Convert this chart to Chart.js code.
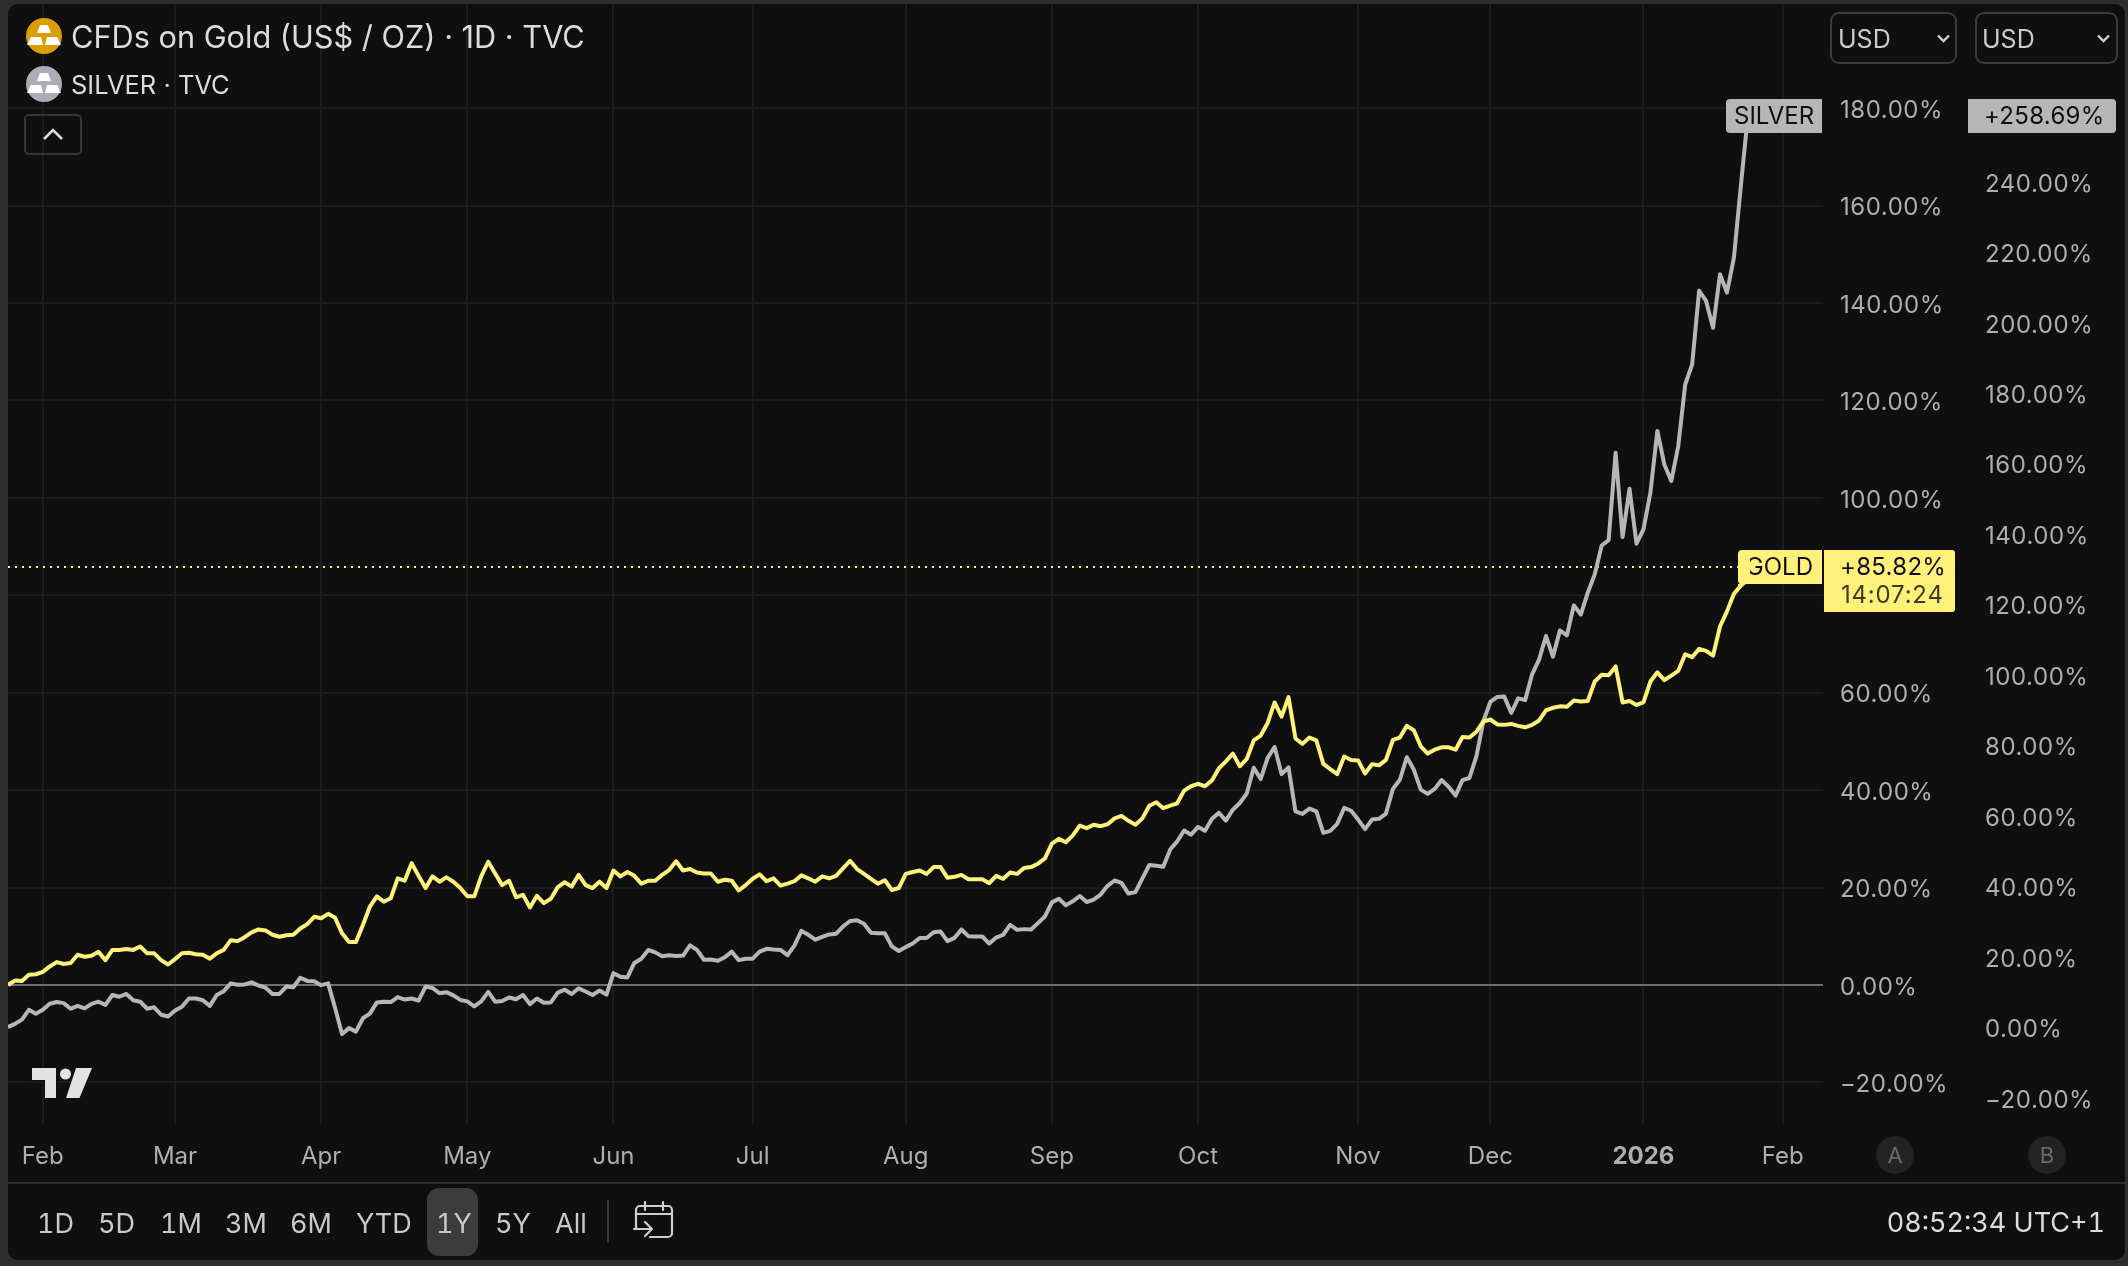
<!DOCTYPE html>
<html><head><meta charset="utf-8">
<script src="https://cdn.jsdelivr.net/npm/chart.js@4/dist/chart.umd.min.js"></script>
<style>
html,body{margin:0;padding:0;background:#2e2e2e;width:2128px;height:1266px;overflow:hidden;font-family:Inter,sans-serif}
#panel{position:absolute;left:8px;top:4px;width:2117px;height:1256px;background:#0f0f0f;border-radius:10px}
#c{position:absolute;left:0;top:0;width:2128px;height:1266px}
.t{position:absolute;line-height:1;transform:translateY(-50%);white-space:nowrap}
.box{position:absolute;box-sizing:border-box}
svg{position:absolute;overflow:visible}
.r{font-size:27px;color:#c9c9c9;font-feature-settings:'tnum'}
</style></head><body>
<div id="panel"></div>
<canvas id="c" width="2128" height="1266"></canvas>

<svg style="left:0;top:0" width="2128" height="1266">
 <g><ellipse cx="44" cy="36" rx="18" ry="18" fill="#db9d00"/>
  <path d="M40 25h8l3 8H37zM31 37h10l2 8H27l4-8zM47 37h10l4 8H45z" fill="#fff"/></g>
 <g><ellipse cx="44" cy="84" rx="18" ry="18" fill="#aeacba"/>
  <path d="M40 73h8l3 8H37zM31 85h10l2 8H27l4-8zM47 85h10l4 8H45z" fill="#fff"/></g>
 <path d="M44 139l9-9 9 9" fill="none" stroke="#dcdcdc" stroke-width="2.6"/>
 <path d="M32 1068h24v30H45v-18H32z M76 1068h16l-12.500 30H66z" fill="#e2e2e2" stroke="#0f0f0f" stroke-width="3" paint-order="stroke"/>
 <circle cx="65.500" cy="1074" r="5.500" fill="#e2e2e2"/>
 <path d="M1938 35.500l5.500 5.500 5.500-5.500" fill="none" stroke="#d0d0d0" stroke-width="2.400"/>
 <path d="M2098 35.500l5.500 5.500 5.500-5.500" fill="none" stroke="#d0d0d0" stroke-width="2.400"/>
 <g fill="none" stroke="#cfcfcf" stroke-width="2.200" stroke-linecap="round" stroke-linejoin="round">
  <path d="M636 1228v-18a4 4 0 0 1 4-4h28a4 4 0 0 1 4 4v23a4 4 0 0 1-4 4h-18M636 1214h36M645 1202v8M663 1202v8M634 1229h18M645 1222l7 7-7 7"/>
 </g>
</svg>

<div class="t" style="left:71px;top:37px;font-size:30.700px;color:#dcdcdc">CFDs on Gold (US$ / OZ) · 1D · TVC</div>
<div class="t" style="left:71px;top:85px;font-size:25.500px;color:#dcdcdc">SILVER · TVC</div>
<div class="box" style="left:24px;top:114px;width:58px;height:41px;border:2px solid #353535;border-radius:5px"></div>

<div class="box" style="left:1830px;top:12px;width:127px;height:52px;border:2px solid #3b3b3b;border-radius:9px"></div>
<div class="box" style="left:1975px;top:12px;width:143px;height:52px;border:2px solid #3b3b3b;border-radius:9px"></div>
<div class="t" style="left:1838px;top:39px;font-size:25px;color:#cbcbcb">USD</div>
<div class="t" style="left:1982px;top:39px;font-size:25px;color:#cbcbcb">USD</div>

<div class="box" style="left:1876px;top:1136px;width:38px;height:38px;border-radius:50%;background:#232323"></div>
<div class="box" style="left:2028px;top:1136px;width:38px;height:38px;border-radius:50%;background:#232323"></div>
<div class="t" style="left:1895px;top:1155px;font-size:22px;color:#6b6b6b;transform:translate(-50%,-50%)">A</div>
<div class="t" style="left:2047px;top:1155px;font-size:22px;color:#6b6b6b;transform:translate(-50%,-50%)">B</div>

<div class="box" style="left:8px;top:1182px;width:2117px;height:2px;background:#2e2e2e"></div>
<div class="box" style="left:427px;top:1188px;width:51px;height:68px;border-radius:12px;background:#3c3c3c"></div>
<div class="box" style="left:607px;top:1200px;width:2px;height:43px;background:#3a3a3a"></div>
<div class="t r" style="left:37px;top:1223px">1D</div>
<div class="t r" style="left:98px;top:1223px">5D</div>
<div class="t r" style="left:160px;top:1223px">1M</div>
<div class="t r" style="left:225px;top:1223px">3M</div>
<div class="t r" style="left:290px;top:1223px">6M</div>
<div class="t r" style="left:356px;top:1223px">YTD</div>
<div class="t r" style="left:436px;top:1223px">1Y</div>
<div class="t r" style="left:495px;top:1223px">5Y</div>
<div class="t r" style="left:555px;top:1223px">All</div>
<div class="t r" style="right:23px;top:1222px;color:#dcdcdc">08:52:34 UTC+1</div>

<script>
const monthNames = ["","Feb","Mar","Apr","May","Jun","Jul","Aug","Sep","Oct","Nov","Dec","2026","Feb"];
const monthBars  = [5,19,21,21,21,20,22,21,21,23,19,22,20,6];
const axisATicksShownUpTo = 180;
const axisBTicksShownUpTo = 240;

const goldValues = [
0.0,0.9,0.8,2.1,2.2,2.7,3.8,4.7,4.3,4.5,6.2,5.8,6.0,6.8,5.1,7.2,7.2,7.4,7.2,7.9,
6.5,6.5,5.1,4.2,5.3,6.5,6.6,6.3,6.2,5.4,6.5,7.2,9.2,9.0,9.8,10.8,11.4,11.2,10.3,9.9,
10.2,10.3,11.6,12.5,14.0,13.7,14.6,13.8,10.6,8.8,8.8,12.3,16.1,18.2,17.1,17.8,21.9,21.4,25.0,22.4,
19.9,22.3,21.2,22.1,21.2,19.9,18.2,18.2,22.3,25.3,22.9,20.5,21.4,18.0,18.5,15.9,18.3,16.8,17.7,20.1,
21.1,20.2,22.6,20.5,19.9,21.2,19.9,23.5,22.3,23.2,22.4,20.8,21.4,21.4,22.6,23.6,25.4,23.5,23.8,23.1,
22.9,22.9,21.2,21.6,21.4,19.4,20.5,21.8,22.7,21.3,21.9,20.4,20.8,21.3,22.5,21.9,21.2,22.3,21.9,22.4,
24.0,25.5,23.8,22.8,21.8,20.8,21.5,19.5,19.9,22.8,23.2,23.5,22.8,24.2,24.2,22.0,22.2,22.6,21.7,21.7,
21.7,20.9,22.4,21.8,23.1,22.8,24.0,24.2,24.9,26.0,29.0,30.0,29.3,30.7,32.7,32.2,32.9,32.6,33.0,34.2,
34.7,33.7,32.9,34.2,36.8,37.5,36.3,36.8,37.3,39.9,40.8,41.3,40.8,42.0,44.5,45.9,47.5,44.9,46.4,50.2,
51.2,53.8,58.0,55.1,59.1,50.6,49.5,50.8,50.2,45.4,44.3,43.3,46.9,46.2,46.1,43.4,45.3,45.1,46.2,50.3,
50.8,53.2,52.3,49.0,47.5,48.3,48.8,48.8,48.3,50.9,50.8,52.0,54.1,54.5,53.5,53.4,53.6,53.2,52.9,53.4,
54.3,56.4,56.9,57.2,57.1,58.4,58.2,58.3,62.3,63.7,63.6,65.4,58.0,58.3,57.5,58.0,62.3,64.2,62.6,63.5,
64.5,67.9,67.3,69.0,68.6,67.6,73.6,76.7,80.3,82.0,85.82];

const silverValues = [
0.1,1.0,2.2,5.0,3.9,5.0,6.7,7.2,6.9,5.3,6.1,5.4,6.7,7.3,6.4,9.2,8.7,9.5,7.7,7.3,
5.3,5.7,3.6,3.1,4.8,5.9,8.2,8.2,7.7,6.1,9.2,10.3,12.5,12.1,12.2,12.8,11.9,11.3,9.5,9.5,
11.6,11.4,14.1,13.2,13.1,12.0,12.5,5.5,-1.9,-0.2,-1.2,2.6,3.9,7.1,7.3,7.2,8.6,7.9,8.2,7.6,
11.6,11.2,9.7,10.0,9.1,7.8,7.4,6.0,7.4,10.1,7.3,7.5,8.5,8.0,9.2,6.6,8.2,7.0,7.1,9.9,
10.7,9.5,11.1,10.2,9.2,10.5,9.3,15.4,14.4,14.2,18.3,19.5,22.0,21.3,20.2,20.5,20.3,20.4,23.3,22.0,
19.2,19.3,18.9,19.9,21.5,19.1,19.5,19.5,21.5,22.3,22.1,22.0,20.5,23.2,27.4,26.3,24.9,25.7,26.4,26.6,
28.7,30.2,30.4,29.4,26.9,26.7,26.7,23.0,21.7,22.8,23.8,25.4,25.4,27.0,27.2,24.5,25.4,27.8,25.9,25.8,
25.8,23.8,25.5,26.3,29.1,27.7,27.9,27.8,29.6,31.5,35.5,36.5,34.7,35.8,37.3,35.6,36.3,37.7,40.2,41.7,
41.0,38.0,38.4,42.3,46.1,45.9,45.6,50.5,52.8,55.9,54.7,56.9,55.8,59.2,60.9,58.7,61.8,63.7,66.4,73.7,
70.5,76.5,79.6,71.9,73.8,61.3,60.6,62.1,61.3,55.2,55.8,57.8,62.3,61.5,59.0,56.3,59.0,59.2,60.7,67.7,
70.3,76.7,73.2,67.5,66.3,67.7,70.2,68.3,65.8,70.2,70.8,77.0,86.9,92.4,93.8,93.9,89.3,93.4,92.9,100.2,
104.4,111.1,105.2,112.7,111.3,119.8,117.2,123.4,128.6,136.8,138.3,163.1,139.2,152.9,137.3,141.4,151.8,169.3,159.8,155.1,
165.0,182.5,188.2,209.1,206.2,198.6,213.8,208.6,218.5,238.9,258.69];

const countdownText = "14:07:24";

const monthStarts = []; const monthLabelAt = {};
monthBars.reduce((acc, n, i) => { if (monthNames[i]) { monthStarts.push(acc); monthLabelAt[acc] = monthNames[i]; } return acc + n; }, 0);
const yearTick = monthStarts[monthNames.indexOf("2026") - 1];

const pct = v => (v < 0 ? "\u2212" + Math.abs(v) : v) + ".00%";
const signed = v => "+" + v.toFixed(2) + "%";
const GOLD = "#fff17a", SILVER = "#b6b6b6", GRID = "#1c1c1c", TICK = "#aeaeae";
const tickFont = { family: "Inter", size: 24 };

class SpacedLinear extends Chart.LinearScale {
  static id = "spacedLinear";
  static defaults = {};
  draw(area) { const c = this.ctx; c.save(); c.letterSpacing = "0.55px"; super.draw(area); c.restore(); }
}
Chart.register(SpacedLinear);

const noAxisPadding = s => { s.paddingTop = 0; s.paddingBottom = 0; s.paddingLeft = 0; s.paddingRight = 0; };

const priceTags = {
  id: "priceTags",
  beforeDatasetsDraw(chart) {
    const { ctx, scales: { a }, chartArea } = chart;
    const y = a.getPixelForValue(goldValues[goldValues.length - 1]);
    ctx.save(); ctx.strokeStyle = GOLD; ctx.lineWidth = 2; ctx.setLineDash([2, 5]);
    ctx.beginPath(); ctx.moveTo(chartArea.left, y); ctx.lineTo(1738, y); ctx.stroke(); ctx.restore();
  },
  afterDatasetsDraw(chart) {
    const { ctx, scales: { a, b } } = chart;
    const gv = goldValues[goldValues.length - 1], sv = silverValues[silverValues.length - 1];
    const gy = a.getPixelForValue(gv), sy = b.getPixelForValue(sv);
    const rr = (x, y, w, h, r, col) => { ctx.fillStyle = col; ctx.beginPath(); ctx.roundRect(x, y, w, h, r); ctx.fill(); };
    ctx.save(); ctx.textBaseline = "middle"; ctx.font = "24px Inter";
    rr(1726, sy - 17, 96, 34, [4, 0, 0, 4], SILVER);
    rr(1968, sy - 17, 148, 34, [0, 4, 4, 0], SILVER);
    ctx.fillStyle = "#0f0f0f"; ctx.textAlign = "left";
    ctx.fillText("SILVER", 1734, sy + 1);
    ctx.letterSpacing = "0.3px";
    ctx.fillText(signed(sv), 1984, sy + 1);
    ctx.letterSpacing = "0px";
    rr(1738, gy - 17, 84, 34, [4, 0, 0, 4], GOLD);
    ctx.beginPath(); ctx.moveTo(1738, gy + 17); ctx.lineTo(1746, gy + 17); ctx.lineTo(1738, gy + 23); ctx.fillStyle = GOLD; ctx.fill();
    rr(1824, gy - 17, 131, 62, [0, 3, 3, 0], GOLD);
    ctx.save(); ctx.beginPath(); ctx.rect(1750, gy - 17, 72, 34); ctx.clip();
    ctx.fillStyle = "#0f0f0f"; ctx.textAlign = "right"; ctx.fillText("GOLD", 1813, gy + 1); ctx.restore();
    ctx.fillStyle = "#0f0f0f"; ctx.textAlign = "left"; ctx.letterSpacing = "0.3px"; ctx.fillText(signed(gv), 1840, gy + 1);
    ctx.letterSpacing = "0.8px"; ctx.fillStyle = "#3f3c1e"; ctx.fillText(countdownText, 1841, gy + 29);
    ctx.restore();
  }
};

Chart.defaults.font.family = "Inter";
new Chart(document.getElementById("c"), {
  type: "line",
  data: { datasets: [
    { label: "GOLD", data: goldValues.map((v, i) => ({ x: i, y: v })), yAxisID: "a", borderColor: GOLD, borderWidth: 4, pointRadius: 0, tension: 0, borderJoinStyle: "round" },
    { label: "SILVER", data: silverValues.map((v, i) => ({ x: i, y: v })), yAxisID: "b", borderColor: SILVER, borderWidth: 4, pointRadius: 0, tension: 0, borderJoinStyle: "round" }
  ]},
  options: {
    responsive: false, animation: false, devicePixelRatio: 1,
    layout: { autoPadding: false, padding: { left: 8, top: 4, right: 0, bottom: 83 } },
    plugins: { legend: { display: false }, tooltip: { enabled: false }, title: { display: false } },
    scales: {
      x: { type: "linear", min: 0, max: 260.8, bounds: "data",
        afterBuildTicks: s => { s.ticks = monthStarts.map(v => ({ value: v })); },
        afterFit: s => { s.height = 58; noAxisPadding(s); },
        grid: { color: GRID, lineWidth: 2, drawTicks: false }, border: { display: false },
        ticks: { autoSkip: false, maxRotation: 0, padding: 17, color: TICK, includeBounds: false,
          font: c => (c.tick && c.tick.value === yearTick ? { family: "Inter", size: 24, weight: "bold" } : tickFont),
          callback: v => monthLabelAt[v] || "" } },
      a: { type: "spacedLinear", position: "right", weight: 1, min: -28.75, max: 201.4,
        afterFit: s => { s.width = 152; noAxisPadding(s); },
        grid: { color: c => (c.tick.value === 0 ? "#6e6e6e" : GRID), lineWidth: 2, drawTicks: false }, border: { display: false },
        ticks: { stepSize: 20, includeBounds: false, autoSkip: false, padding: 17, labelOffset: 2.5, crossAlign: "near", color: TICK, font: tickFont,
          callback: v => (v <= axisATicksShownUpTo ? pct(v) : null) } },
      b: { type: "spacedLinear", position: "right", weight: 2, min: -27.7, max: 290.5,
        afterFit: s => { s.width = 153; noAxisPadding(s); },
        grid: { display: false, drawTicks: false }, border: { display: false },
        ticks: { stepSize: 20, includeBounds: false, autoSkip: false, padding: 10, labelOffset: 2.5, crossAlign: "near", color: TICK, font: tickFont,
          callback: v => (v <= axisBTicksShownUpTo ? pct(v) : null) } }
    }
  },
  plugins: [priceTags]
});
</script>
</body></html>
